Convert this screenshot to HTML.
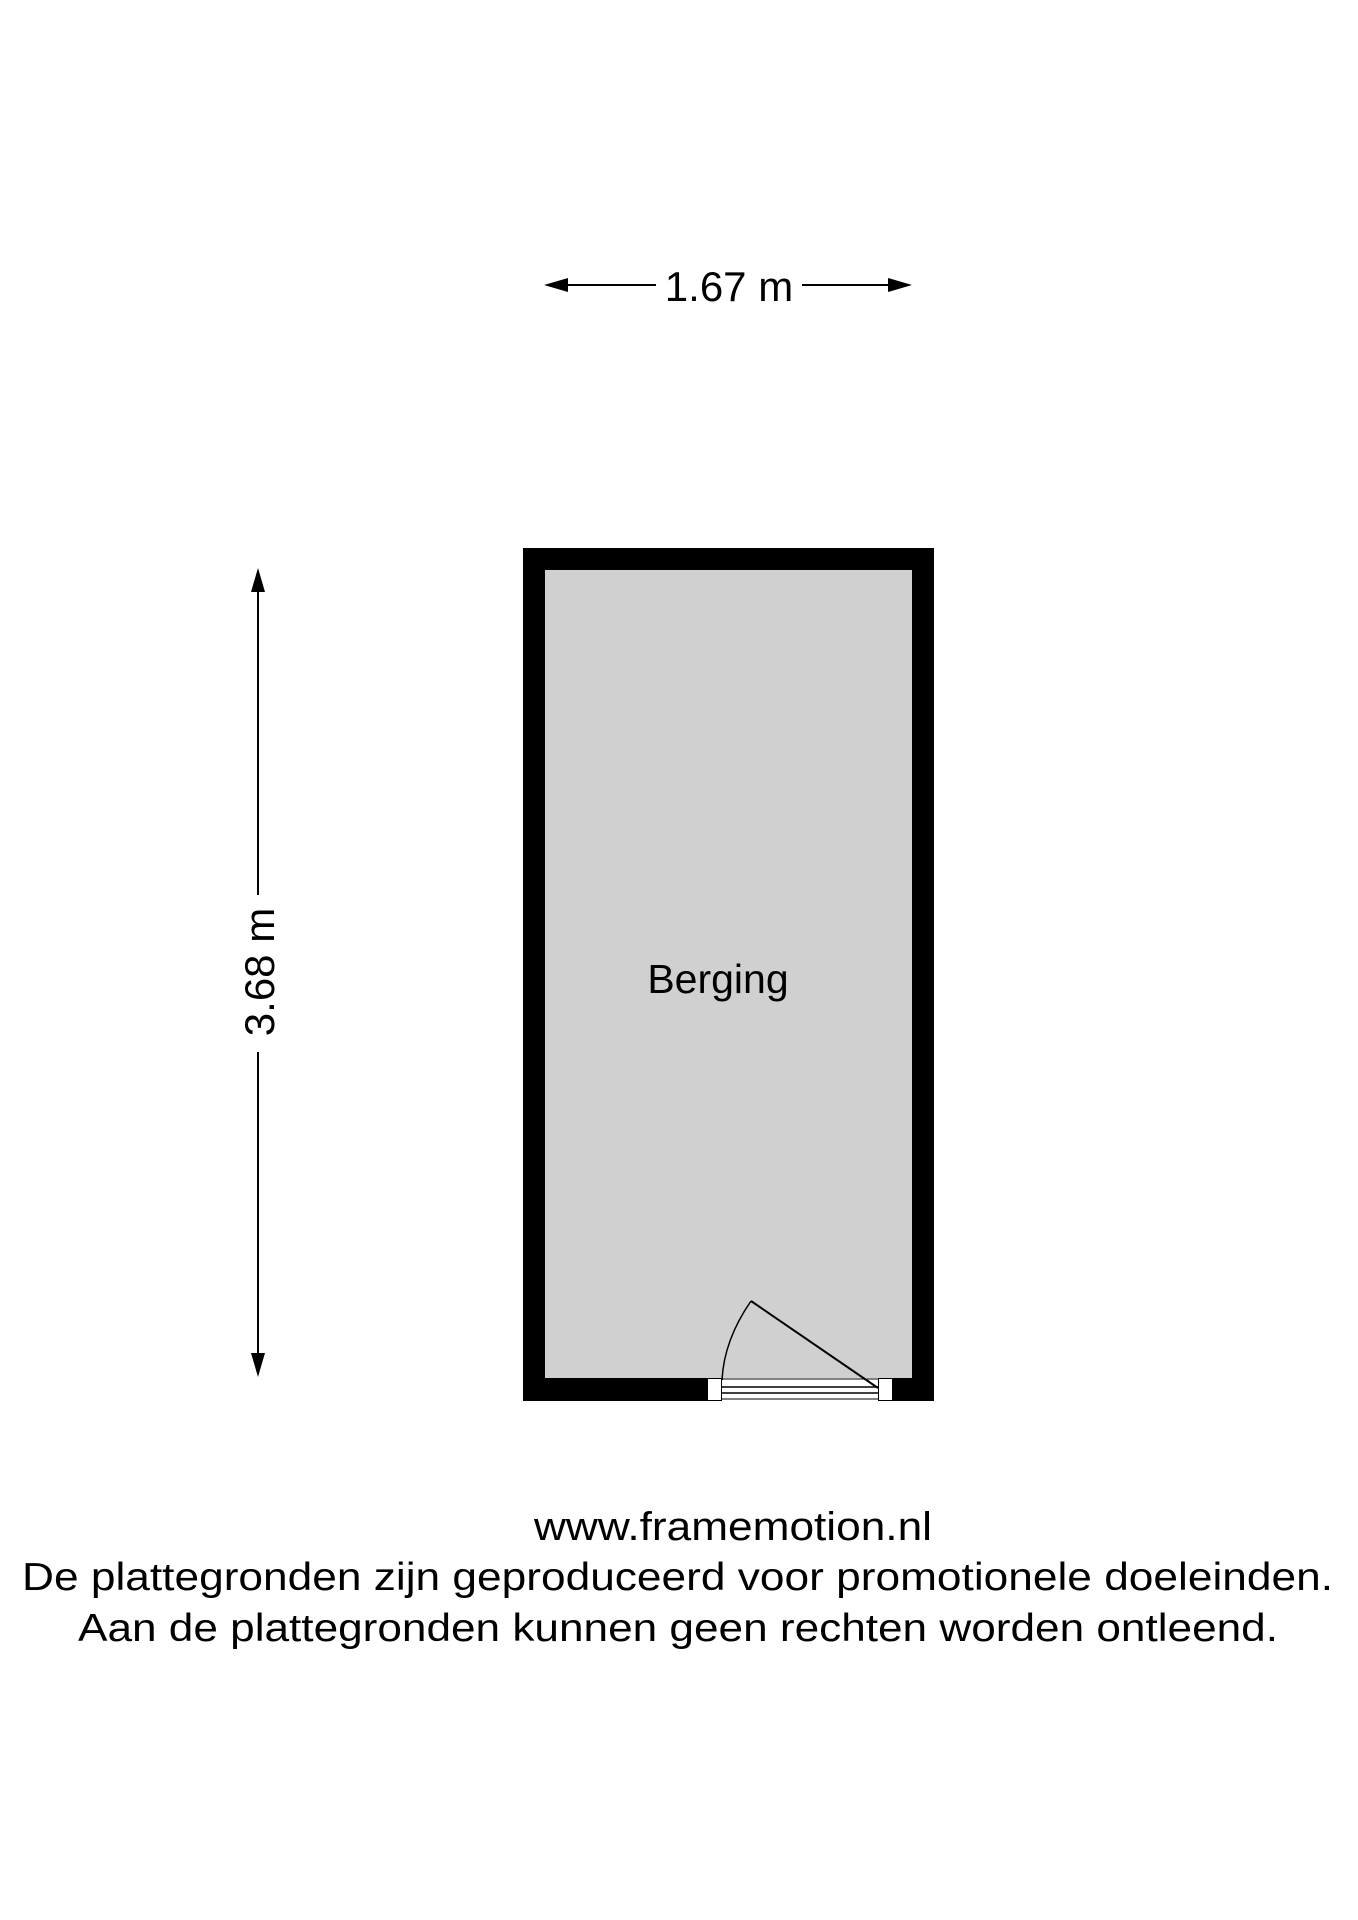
<!DOCTYPE html>
<html><head><meta charset="utf-8"><style>html,body{margin:0;padding:0;background:#fff}svg{display:block}</style></head>
<body>
<svg width="1358" height="1920" viewBox="0 0 1358 1920" xmlns="http://www.w3.org/2000/svg" font-family="Liberation Sans, Arial, sans-serif">
<rect width="1358" height="1920" fill="#fff"/>
<!-- horizontal dimension -->
<line x1="555" y1="285" x2="656" y2="285" stroke="#000" stroke-width="2"/>
<line x1="802" y1="285" x2="900" y2="285" stroke="#000" stroke-width="2"/>
<polygon points="544,285 568,278 568,292" fill="#000"/>
<polygon points="912,285 888,278 888,292" fill="#000"/>
<text x="729" y="301" font-size="42" text-anchor="middle">1.67 m</text>
<!-- vertical dimension -->
<line x1="258" y1="580" x2="258" y2="895" stroke="#000" stroke-width="2"/>
<line x1="258" y1="1052" x2="258" y2="1365" stroke="#000" stroke-width="2"/>
<polygon points="258,568 251,592 265,592" fill="#000"/>
<polygon points="258,1377 251,1353 265,1353" fill="#000"/>
<text transform="translate(274,972) rotate(-90)" font-size="42" text-anchor="middle">3.68 m</text>
<!-- room -->
<rect x="523" y="548" width="411" height="853" fill="#000"/>
<rect x="545" y="570" width="367" height="808" fill="#d0d0d0"/>
<!-- door opening -->
<rect x="707" y="1378" width="186" height="23" fill="#fff"/>
<rect x="707.5" y="1378.5" width="14" height="22" fill="#fff" stroke="#000" stroke-width="1"/>
<rect x="878.5" y="1378.5" width="14" height="22" fill="#fff" stroke="#000" stroke-width="1"/>
<line x1="722" y1="1379" x2="878" y2="1379" stroke="#000" stroke-width="1"/>
<line x1="722" y1="1387" x2="878" y2="1387" stroke="#000" stroke-width="1.5"/>
<line x1="722" y1="1393" x2="878" y2="1393" stroke="#000" stroke-width="1.5"/>
<line x1="722" y1="1399" x2="878" y2="1399" stroke="#000" stroke-width="1"/>
<line x1="878" y1="1388" x2="751" y2="1301" stroke="#000" stroke-width="2"/>
<path d="M751,1301 Q724,1340 722,1380" fill="none" stroke="#000" stroke-width="1.5"/>
<text x="718" y="993" font-size="41" text-anchor="middle">Berging</text>
<!-- footer -->
<text x="733" y="1540" font-size="40" text-anchor="middle" textLength="398" lengthAdjust="spacingAndGlyphs">www.framemotion.nl</text>
<text x="22" y="1590" font-size="39" textLength="1311" lengthAdjust="spacingAndGlyphs">De plattegronden zijn geproduceerd voor promotionele doeleinden.</text>
<text x="78" y="1641" font-size="39" textLength="1200" lengthAdjust="spacingAndGlyphs">Aan de plattegronden kunnen geen rechten worden ontleend.</text>
</svg>
</body></html>
